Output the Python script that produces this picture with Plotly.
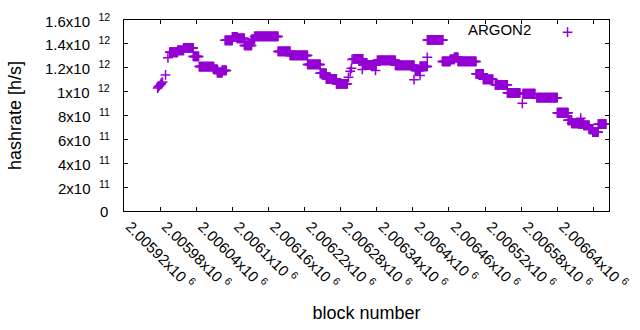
import numpy as np
import plotly.graph_objects as go

# Runs of (nearly) constant hashrate: first block, last block, hashrate [h/s]
run_start = [2005996, 2006009, 2006019, 2006035, 2006045, 2006069, 2006075, 2006083,
             2006088, 2006100, 2006108, 2006120, 2006132, 2006137, 2006176, 2006196,
             2006225, 2006246, 2006256, 2006273, 2006301, 2006317, 2006341, 2006371,
             2006404, 2006412, 2006424, 2006449, 2006462, 2006469, 2006475, 2006505,
             2006517, 2006537, 2006557, 2006583, 2006606, 2006640, 2006658, 2006664,
             2006676, 2006684, 2006693, 2006699, 2006708]
run_end = [2006009, 2006019, 2006035, 2006044, 2006069, 2006075, 2006083, 2006090,
           2006100, 2006108, 2006120, 2006132, 2006137, 2006176, 2006196, 2006225,
           2006246, 2006256, 2006273, 2006291, 2006317, 2006339, 2006371, 2006402,
           2006412, 2006424, 2006450, 2006462, 2006469, 2006475, 2006505, 2006517,
           2006533, 2006557, 2006578, 2006603, 2006640, 2006658, 2006664, 2006676,
           2006684, 2006693, 2006699, 2006708, 2006721]
run_value = [1.330e12, 1.345e12, 1.366e12, 1.295e12, 1.210e12, 1.186e12, 1.160e12, 1.178e12,
             1.430e12, 1.458e12, 1.446e12, 1.387e12, 1.437e12, 1.462e12, 1.337e12, 1.303e12,
             1.228e12, 1.153e12, 1.107e12, 1.065e12, 1.274e12, 1.224e12, 1.262e12, 1.220e12,
             1.178e12, 1.211e12, 1.433e12, 1.253e12, 1.270e12, 1.287e12, 1.253e12, 1.149e12,
             1.103e12, 1.057e12, 0.990e12, 0.982e12, 0.949e12, 0.823e12, 0.760e12, 0.735e12,
             0.730e12, 0.718e12, 0.685e12, 0.660e12, 0.727e12]

# Isolated blocks
pt_block = [2005976, 2005977, 2005979, 2005981, 2005982, 2005984, 2005989, 2005993,
            2006293, 2006296, 2006298, 2006299, 2006316, 2006338, 2006402, 2006412,
            2006424, 2006582, 2006679]
pt_value = [1.030e12, 1.040e12, 1.050e12, 1.060e12, 1.070e12, 1.080e12, 1.140e12, 1.283e12,
            1.120e12, 1.170e12, 1.195e12, 1.270e12, 1.186e12, 1.178e12, 1.100e12, 1.136e12,
            1.287e12, 0.902e12, 0.777e12]

x_tickvals = [2005920, 2005980, 2006040, 2006100, 2006160, 2006220, 2006280,
              2006340, 2006400, 2006460, 2006520, 2006580, 2006640, 2006700]
x_ticktext = ["2.00592", "2.00598", "2.00604", "2.0061", "2.00616", "2.00622", "2.00628",
              "2.00634", "2.0064", "2.00646", "2.00652", "2.00658", "2.00664", "2.0067"]
y_tickvals = [0, 2e11, 4e11, 6e11, 8e11, 1e12, 1.2e12, 1.4e12, 1.6e12]
y_ticktext = ["0", "2x10", "4x10", "6x10", "8x10", "1x10", "1.2x10", "1.4x10", "1.6x10"]
y_tickexp = ["", "11", "11", "11", "11", "12", "12", "12", "12"]

# expand runs to one point per block
xs, ys = [], []
for s, e, v in zip(run_start, run_end, run_value):
    for b in range(s, e + 1):
        xs.append(b)
        ys.append(v)
xs += pt_block
ys += pt_value

color = "#9400d3"
font = "Liberation Sans, Arial, sans-serif"
gap = "\u00a0 "

fig = go.Figure()
fig.add_trace(go.Scatter(
    x=xs, y=ys, mode="markers", name=" ",
    marker=dict(symbol="cross-thin", size=7, color=color,
                line=dict(width=1.5, color=color)),
    showlegend=True,
))

# y tick labels as annotations so they can sit 12px left of the axis
for v, t, e in zip(y_tickvals, y_ticktext, y_tickexp):
    txt = t + (gap + "<sup>" + e + "</sup>" if e else "")
    fig.add_annotation(
        x=0, xref="paper", y=v, yref="y", text=txt, showarrow=False,
        xanchor="right", yanchor="middle", xshift=-12 if e else -14,
        font=dict(family=font, size=15, color="black"),
    )

fig.update_layout(
    width=640, height=330,
    margin=dict(l=124, r=31, t=19.5, b=119, autoexpand=False),
    paper_bgcolor="white", plot_bgcolor="white",
    font=dict(family=font, size=15, color="black"),
    legend=dict(
        title=dict(text="ARGON2\u00a0\u00a0", side="left", font=dict(size=15)),
        x=0.975, y=0.935, xanchor="right", yanchor="middle",
        bgcolor="rgba(0,0,0,0)", font=dict(size=15),
        itemwidth=30,
    ),
    xaxis=dict(
        range=[2005920, 2006726],
        tickvals=x_tickvals,
        ticktext=[t + "x10 <sup>6</sup>" for t in x_ticktext],
        tickangle=45, automargin=False, ticklabelshift=6,
        ticks="inside", ticklen=4, tickcolor="black",
        showline=True, linecolor="black", linewidth=1, mirror="ticks",
        showgrid=False, zeroline=False,
        title=dict(text="block number", standoff=14),
        tickfont=dict(size=15),
    ),
    yaxis=dict(
        range=[0, 1.6e12], automargin=False,
        tickvals=y_tickvals, showticklabels=False,
        ticks="inside", ticklen=4, tickcolor="black",
        showline=True, linecolor="black", linewidth=1, mirror="ticks",
        showgrid=False, zeroline=False,
        title=dict(text="hashrate [h/s]", standoff=96),
    ),
)

fig.write_html("out.html", config={"displayModeBar": False},
               post_script="document.body.style.margin='0';document.body.style.padding='0';")
